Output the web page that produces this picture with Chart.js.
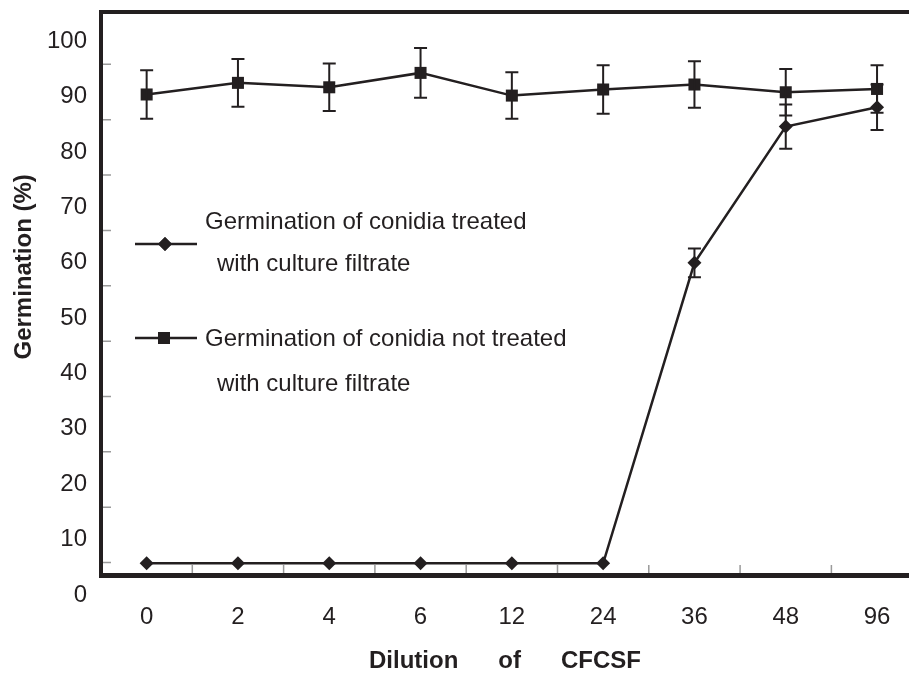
<!DOCTYPE html>
<html>
<head>
<meta charset="utf-8">
<script src="https://cdn.jsdelivr.net/npm/chart.js@4.4.0/dist/chart.umd.min.js"></script>
<style>
  html, body { margin: 0; padding: 0; background: #fff; overflow: hidden; }
</style>
</head>
<body>
<canvas id="chart" width="909" height="673"></canvas>
<script>
// data
const dilutions = ['0', '2', '4', '6', '12', '24', '36', '48', '96']
const treated = [5.7, 5.7, 5.7, 5.7, 5.7, 5.7, 60.0, 84.6, 88.1]
const treatedErr = [0, 0, 0, 0, 0, 0, 2.6, 4.0, 4.1]
const notTreated = [90.4, 92.5, 91.7, 94.3, 90.2, 91.3, 92.2, 90.8, 91.4]
const notTreatedErr = [4.4, 4.3, 4.3, 4.5, 4.2, 4.4, 4.2, 4.2, 4.3]
const yTicks = [0, 10, 20, 30, 40, 50, 60, 70, 80, 90, 100]

const ink = '#231f20'
const FONT = "'Liberation Sans', Arial, sans-serif"

function toPoints (arr) {
  return arr.map((v, i) => ({ x: i, y: v }))
}

// error bars
const errorBars = {
  id: 'errorBars',
  afterDatasetsDraw (chart) {
    const { ctx, scales: { x, y } } = chart
    ctx.save()
    ctx.strokeStyle = ink
    ctx.lineWidth = 2
    chart.data.datasets.forEach(ds => {
      ds.data.forEach((p, i) => {
        const e = ds.err[i]
        if (!e) return
        const px = x.getPixelForValue(p.x)
        const top = y.getPixelForValue(p.y + e)
        const bot = y.getPixelForValue(p.y - e)
        ctx.beginPath()
        ctx.moveTo(px, top); ctx.lineTo(px, bot)
        ctx.moveTo(px - 6.5, top); ctx.lineTo(px + 6.5, top)
        ctx.moveTo(px - 6.5, bot); ctx.lineTo(px + 6.5, bot)
        ctx.stroke()
      })
    })
    ctx.restore()
  }
}

// top border + small inner tick marks
const frame = {
  id: 'frame',
  afterDraw (chart) {
    const { ctx, chartArea: a, scales: { x, y } } = chart
    ctx.save()
    ctx.strokeStyle = '#9a9a9a'
    ctx.lineWidth = 1.5
    ctx.beginPath()
    yTicks.slice(1).forEach(v => {
      const py = y.getPixelForValue(v) + 23
      ctx.moveTo(a.left + 2, py); ctx.lineTo(a.left + 10, py)
    })
    for (let i = 0; i < dilutions.length - 1; i++) {
      const px = x.getPixelForValue(i + 0.5)
      ctx.moveTo(px, a.bottom - 2); ctx.lineTo(px, a.bottom - 10)
    }
    ctx.stroke()
    ctx.strokeStyle = ink
    ctx.lineWidth = 4
    ctx.beginPath()
    ctx.moveTo(a.left - 2, a.top); ctx.lineTo(a.right, a.top)
    ctx.stroke()
    ctx.restore()
  }
}

// legend drawn inside the plot
const innerLegend = {
  id: 'innerLegend',
  afterDraw (chart) {
    const ctx = chart.ctx
    const rows = [
      { ds: chart.data.datasets[0], lineY: 244, px: 165, text: ['Germination of conidia treated', 'with culture filtrate'], ty: [222, 264] },
      { ds: chart.data.datasets[1], lineY: 338, px: 164, text: ['Germination of conidia not treated', 'with culture filtrate'], ty: [339, 384] }
    ]
    ctx.save()
    rows.forEach(r => {
      ctx.strokeStyle = ink
      ctx.lineWidth = 2.5
      ctx.beginPath()
      ctx.moveTo(135, r.lineY); ctx.lineTo(197, r.lineY)
      ctx.stroke()
      ctx.fillStyle = ink
      Chart.helpers.drawPoint(ctx, {
        pointStyle: r.ds.pointStyle,
        radius: r.ds.pointRadius,
        borderWidth: 0,
        rotation: 0
      }, r.px, r.lineY)
      ctx.fill()
      ctx.font = '24px ' + FONT
      ctx.textBaseline = 'middle'
      ctx.textAlign = 'left'
      ctx.fillText(r.text[0], 205, r.ty[0])
      ctx.fillText(r.text[1], 217, r.ty[1])
    })
    ctx.restore()
  }
}

const chart = new Chart(document.getElementById('chart'), {
  type: 'line',
  data: {
    datasets: [{
      label: 'Germination of conidia treated with culture filtrate',
      data: toPoints(treated),
      err: treatedErr,
      borderColor: ink,
      backgroundColor: ink,
      borderWidth: 2.5,
      pointStyle: 'rectRot',
      pointRadius: 7,
      pointBorderWidth: 0,
      tension: 0
    }, {
      label: 'Germination of conidia not treated with culture filtrate',
      data: toPoints(notTreated),
      err: notTreatedErr,
      borderColor: ink,
      backgroundColor: ink,
      borderWidth: 2.5,
      pointStyle: 'rect',
      pointRadius: 8.5,
      pointBorderWidth: 0,
      tension: 0
    }]
  },
  options: {
    responsive: false,
    animation: false,
    events: [],
    layout: {
      autoPadding: false,
      padding: { top: 12, right: 0, bottom: 0, left: 0 }
    },
    plugins: {
      legend: { display: false },
      tooltip: { enabled: false }
    },
    scales: {
      x: {
        type: 'linear',
        min: -0.5,
        max: 8.35,
        afterFit: (s) => {
          s.height = 98
          s.paddingLeft = 0
          s.paddingRight = 0
        },
        afterBuildTicks: (s) => { s.ticks = dilutions.map((d, i) => ({ value: i })) },
        grid: { display: false, drawTicks: false },
        border: { display: true, color: ink, width: 5 },
        ticks: {
          padding: 28,
          color: ink,
          font: { family: FONT, size: 24 },
          callback: (v) => dilutions[v]
        },
        title: {
          display: true,
          text: 'Dilution      of      CFCSF',
          color: ink,
          font: { family: FONT, size: 24, weight: 'bold', lineHeight: 1 },
          padding: { top: 0, bottom: 0 }
        }
      },
      y: {
        min: 3.6,
        max: 105.3,
        afterFit: (s) => {
          s.width = 101
          s.paddingTop = 0
          s.paddingBottom = 0
        },
        afterBuildTicks: (s) => { s.ticks = yTicks.map(v => ({ value: v })) },
        grid: { display: false, drawTicks: false },
        border: { display: true, color: ink, width: 4 },
        ticks: {
          padding: 14,
          color: ink,
          font: { family: FONT, size: 24 }
        },
        title: {
          display: true,
          text: '        Germination (%)',
          color: ink,
          font: { family: FONT, size: 24, weight: 'bold' },
          padding: { top: 10, bottom: 0 }
        }
      }
    }
  },
  plugins: [errorBars, frame, innerLegend]
})
</script>
</body>
</html>
